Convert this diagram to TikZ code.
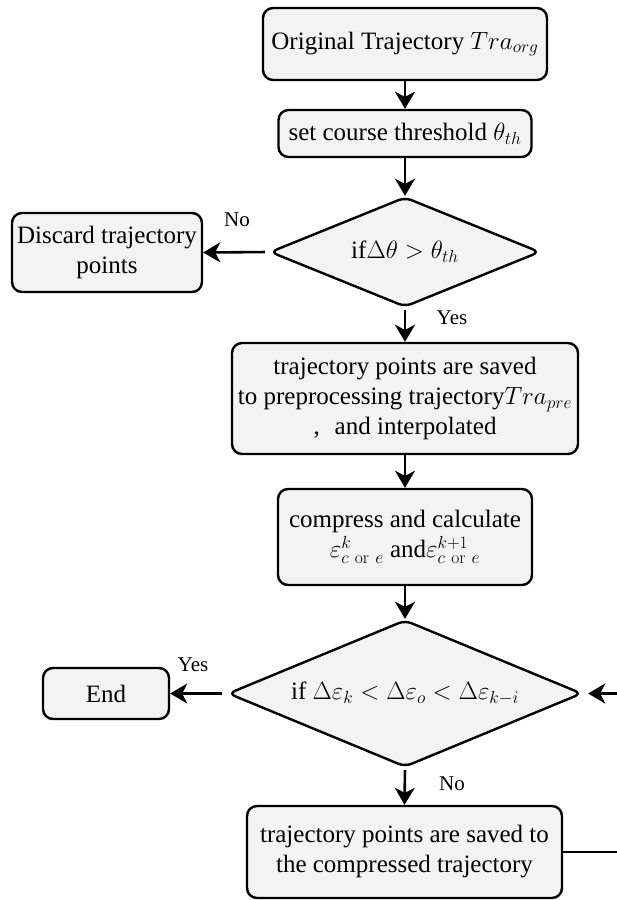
\RequirePackage{fix-cm}
\documentclass[tikz,border=0pt]{standalone}
\usepackage[no-math]{fontspec}
\setmainfont{LiberationSerif}[Extension=.ttf,UprightFont=*-Regular,BoldFont=*-Bold,ItalicFont=*-Italic,BoldItalicFont=*-BoldItalic]
\usetikzlibrary{shapes.geometric,arrows.meta,calc}
\definecolor{boxfill}{HTML}{F3F3F3}
\tikzset{
  base/.style={draw=black, line width=2.4pt, fill=boxfill, align=center,
    font=\rmfamily\fontsize{25}{30}\selectfont, inner sep=0pt},
  procbox/.style={base, rectangle, rounded corners=10pt},
  decbox/.style={base, diamond, rounded corners=7pt, aspect=2},
  arr/.style={line width=2.6pt, -{Stealth[length=17pt,width=20pt,inset=5pt]}},
  lbl/.style={font=\rmfamily\fontsize{21}{24}\selectfont, inner sep=0pt}
}
\begin{document}
\begin{tikzpicture}[x=1pt,y=-1pt]
\useasboundingbox (0,0) rectangle (617,900);
\clip (0,0) rectangle (617,900);

\node[procbox, minimum width=284pt, minimum height=72pt] (n1) at (405,44)
  {Original Trajectory $Tra_{org}$};
\node[procbox, minimum width=253pt, minimum height=47pt] (n2) at (405,133.5)
  {set course threshold $\theta_{th}$};
\node[decbox, minimum width=270pt, minimum height=110pt] (d1) at (405,252)
  {if$\Delta\theta > \theta_{th}$};
\node[procbox, minimum width=190pt, minimum height=79pt] (dis) at (107,252.5)
  {Discard trajectory\\points};
\node[procbox, minimum width=346pt, minimum height=111pt] (n3) at (405,398.5)
  {trajectory points are saved\\to preprocessing trajectory$Tra_{pre}$\\,\hspace{0.6em}and interpolated};
\node[procbox, minimum width=254pt, minimum height=96pt] (n4) at (405,537)
  {compress and calculate\\$\varepsilon^{k}_{c\ \mathrm{or}\ e}$ and$\varepsilon^{k+1}_{c\ \mathrm{or}\ e}$};
\node[decbox, minimum width=354pt, minimum height=147pt] (d2) at (405,693.5)
  {if $\Delta\varepsilon_k < \Delta\varepsilon_o < \Delta\varepsilon_{k-i}$};
\node[procbox, minimum width=126pt, minimum height=51pt] (end) at (106,693.5)
  {End};
\node[procbox, minimum width=315pt, minimum height=92pt] (n5) at (404.5,852)
  {trajectory points are saved to\\the compressed trajectory};

\draw[arr] (n1.south) -- (n2.north);
\draw[arr] (n2.south) -- (d1.north);
\draw[arr, shorten <=4pt] (d1.west) -- (dis.east);
\draw[arr, shorten <=2pt] (d1.south) -- (n3.north);
\draw[arr] (n3.south) -- (n4.north);
\draw[arr] (n4.south) -- (d2.north);
\draw[arr, shorten <=5pt] (d2.west) -- (end.east);
\draw[arr, shorten <=2pt] (d2.south) -- (n5.north);
\coordinate (loop) at ($(n5.east)+(90,0)$);
\draw[arr, line width=2.2pt, shorten >=5pt] (n5.east) -- (loop) |- (d2.east);

\node[lbl] (l1) at (237,220) {No};
\node[lbl] (l2) at (452,318) {Yes};
\node[lbl] (l3) at (193,665) {Yes};
\node[lbl] (l4) at (452,784) {No};
\end{tikzpicture}
\end{document}
